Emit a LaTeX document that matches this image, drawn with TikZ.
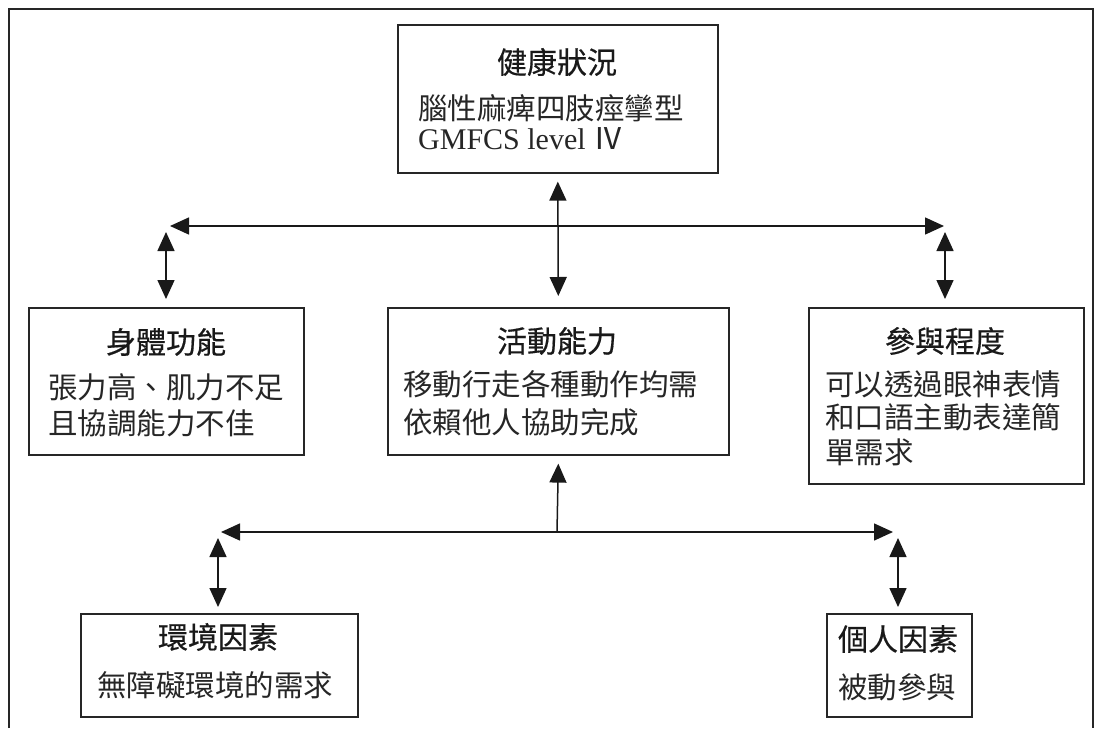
\documentclass[tikz,border=0pt]{standalone}
\usepackage{fontspec}
\setmainfont{Liberation Serif}
\newfontfamily\cjk{Noto Sans CJK TC}
\newfontfamily\cjkm[FakeBold=0.5]{Noto Sans CJK TC}
\usetikzlibrary{arrows.meta,calc}
\tikzset{
  box/.style={draw=black!85, line width=1.6pt, rectangle, inner sep=0pt, anchor=north west},
  ttl/.style={inner sep=0pt, font=\cjkm\fontsize{30}{34}\selectfont, text=black!90},
  bdy/.style={inner sep=0pt, anchor=west, font=\cjk\fontsize{29.5}{34}\selectfont, text=black!85},
  conn/.style={line width=1.5pt, draw=black!90, arrows={Triangle[length=19pt,width=17pt]-Triangle[length=19pt,width=17pt]}},
  conn1/.style={line width=1.5pt, draw=black!90, arrows={-Triangle[length=19pt,width=17pt]}},
}
\begin{document}
\begin{tikzpicture}[x=1pt,y=-1pt]
\useasboundingbox (0,0) rectangle (1102,728);
\draw[line width=2pt, black!85] (9,728) -- (9,9) -- (1093,9) -- (1093,728);

% boxes
\node[box, minimum width=320pt, minimum height=148pt] (hb) at (397,24) {};
\node[box, minimum width=275pt, minimum height=147pt] (bf) at (28,307) {};
\node[box, minimum width=341pt, minimum height=147pt] (ac) at (387,307) {};
\node[box, minimum width=275pt, minimum height=176pt] (pa) at (808,307) {};
\node[box, minimum width=277pt, minimum height=103pt] (en) at (80,613) {};
\node[box, minimum width=145pt, minimum height=103pt] (pf) at (826,613) {};

% texts
\node[ttl] (hbt) at (557,62) {健康狀況};
\node[bdy] (hb1) at (418,108) {腦性麻痺四肢痙攣型};
\node[bdy, font=\fontsize{30}{34}\selectfont] (hb2) at (418,139) {GMFCS level {\cjk Ⅳ}};

\node[ttl] (bft) at (166,342) {身體功能};
\node[bdy] (bf1) at (48,387) {張力高、肌力不足};
\node[bdy] (bf2) at (48,423) {且協調能力不佳};

\node[ttl] (act) at (557,341) {活動能力};
\node[bdy] (ac1) at (403,384) {移動行走各種動作均需};
\node[bdy] (ac2) at (403,422) {依賴他人協助完成};

\node[ttl] (pat) at (945,341) {參與程度};
\node[bdy] (pa1) at (825,384) {可以透過眼神表情};
\node[bdy] (pa2) at (825,417) {和口語主動表達簡};
\node[bdy] (pa3) at (825,452) {單需求};

\node[ttl] (ent) at (218,637) {環境因素};
\node[bdy] (en1) at (97,685) {無障礙環境的需求};

\node[ttl] (pft) at (898,639) {個人因素};
\node[bdy] (pf1) at (838,687) {被動參與};

% connectors
\coordinate (hl) at (170,226);
\coordinate (hr) at (944,226);
\draw[conn] (hl) -- (hr);
\draw[conn] ($(hb.south)+(0,8)$) -- ($(ac.north)+(0,-11)$);
\coordinate (l1) at (166,232);
\coordinate (r1) at (945,232);
\draw[conn] (l1) -- (l1 |- {$(bf.north)+(0,-8)$});
\draw[conn] (r1) -- (r1 |- {$(pa.north)+(0,-8)$});

\coordinate (ll) at (221,532);
\coordinate (lr) at (893,532);
\draw[conn] (ll) -- (lr);
\coordinate (lm) at (557,532);
\draw[conn1] (lm) -- ($(ac.south)+(0,8)$);
\coordinate (l2) at (218,538);
\coordinate (r2) at (898,538);
\draw[conn] (l2) -- (l2 |- {$(en.north)+(0,-6)$});
\draw[conn] (r2) -- (r2 |- {$(pf.north)+(0,-6)$});
\end{tikzpicture}
\end{document}
